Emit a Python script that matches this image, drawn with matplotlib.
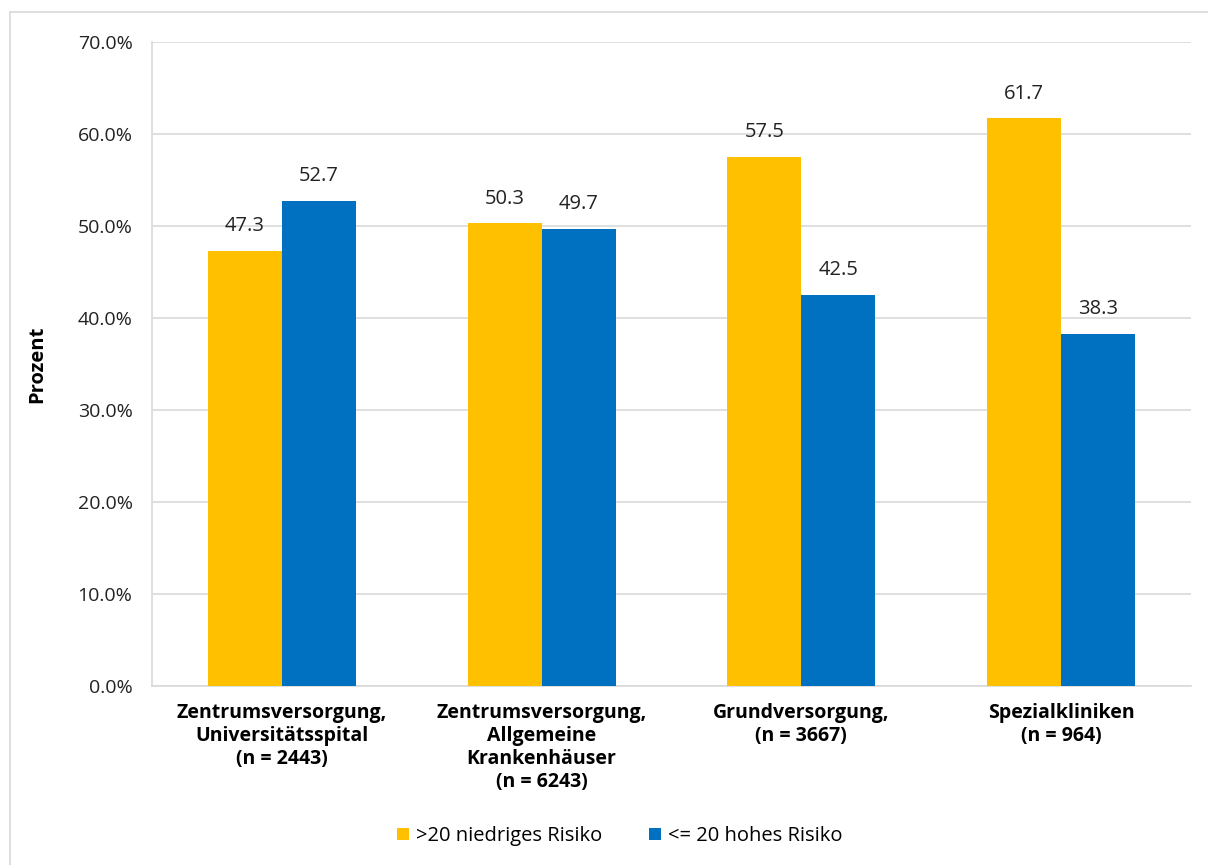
import numpy as np
import matplotlib.pyplot as plt
from matplotlib.lines import Line2D

plt.rcParams['font.family'] = ['Open Sans', 'DejaVu Sans']

categories = [
    'Zentrumsversorgung,\nUniversitätsspital\n(n = 2443)',
    'Zentrumsversorgung,\nAllgemeine\nKrankenhäuser\n(n = 6243)',
    'Grundversorgung,\n(n = 3667)',
    'Spezialkliniken\n(n = 964)',
]
niedrig = [47.3, 50.3, 57.5, 61.7]
hoch = [52.7, 49.7, 42.5, 38.3]
series_names = ['>20 niedriges Risiko', '<= 20 hohes Risiko']
colors = ['#FFC000', '#0070C0']

fig = plt.figure(figsize=(12.08, 8.65), dpi=100)
ax = fig.add_axes([0.1258, 0.2069, 0.8601, 0.7445])

# light frame around the chart area (top and left edges show)
fig.add_artist(Line2D([10 / 1208, 1.0], [1 - 12 / 865, 1 - 12 / 865],
                      transform=fig.transFigure, color='#d9d9d9', lw=1.2))
fig.add_artist(Line2D([10 / 1208, 10 / 1208], [0.0, 1 - 12 / 865],
                      transform=fig.transFigure, color='#d9d9d9', lw=1.2))

x = np.arange(len(categories)) + 0.5
w = 0.285
bars1 = ax.bar(x - w / 2, niedrig, w, color=colors[0], label=series_names[0], zorder=3)
bars2 = ax.bar(x + w / 2, hoch, w, color=colors[1], label=series_names[1], zorder=3)

for bars, vals in [(bars1, niedrig), (bars2, hoch)]:
    for b, v in zip(bars, vals):
        ax.text(b.get_x() + b.get_width() / 2, v + 1.6, f'{v:.1f}',
                ha='center', va='bottom', fontsize=14.5, color='#222222')

ax.set_xlim(0, 4)
ax.set_ylim(0, 70)
ax.set_yticks(np.arange(0, 71, 10))
ax.set_yticklabels([f'{t:.1f}%' for t in np.arange(0, 71, 10)], fontsize=14, color='#222222')
ax.set_xticks(x)
ax.set_xticklabels(categories, fontsize=14, fontweight='bold', linespacing=1.2)
ax.tick_params(axis='y', length=0, pad=14)
ax.tick_params(axis='x', length=0, pad=12)

ax.grid(axis='y', color='#d9d9d9', lw=1.2, zorder=0)
for side in ['top', 'right']:
    ax.spines[side].set_visible(False)
for side in ['left', 'bottom']:
    ax.spines[side].set_color('#d9d9d9')
    ax.spines[side].set_linewidth(1.2)

ax.set_ylabel('Prozent', fontsize=14.5, fontweight='bold', labelpad=22)

fig.legend(handles=[bars1, bars2], labels=series_names, loc='center',
           bbox_to_anchor=(0.513, 1 - 836 / 865), ncol=2, frameon=False,
           fontsize=14.5, handlelength=0.6, handleheight=0.6, handletextpad=0.35,
           columnspacing=2.3)

fig.savefig('out.png', dpi=100)
